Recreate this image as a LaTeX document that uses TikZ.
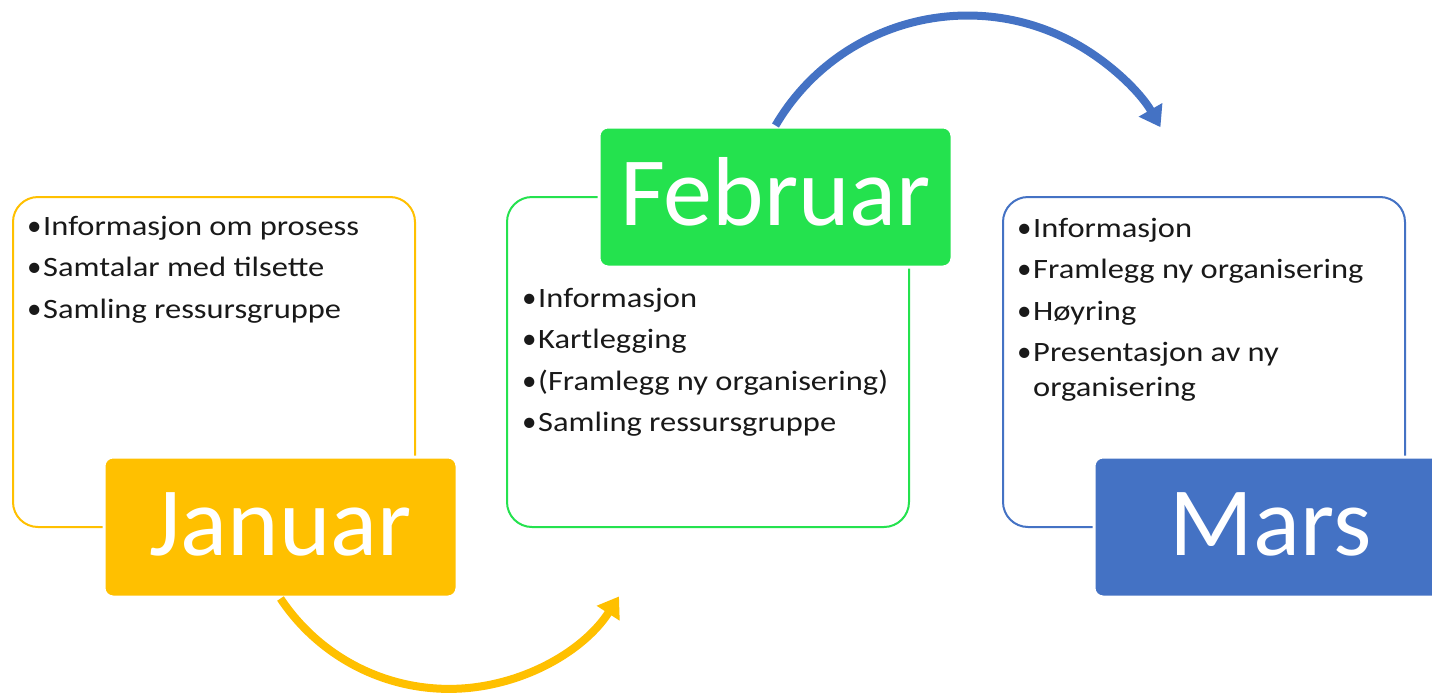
\documentclass[tikz,border=0pt]{standalone}
\usepackage{fontspec}
\setmainfont{Carlito}
\newfontfamily\itemfont[FakeStretch=1.16]{Carlito}
\newfontfamily\bulletfont{Carlito}
\usetikzlibrary{arrows.meta}
\definecolor{janc}{HTML}{FFC000}
\definecolor{febc}{HTML}{24E24E}
\definecolor{marc}{HTML}{4472C4}
\newcommand{\bitem}[1]{\makebox[16pt][l]{\bulletfont\fontsize{29}{35}\selectfont •}#1}
\newcommand{\bindent}{\hspace*{16pt}}
\begin{document}
\begin{tikzpicture}[x=1pt,y=-1pt,
  textbox/.style={draw=#1, line width=2pt, rounded corners=25pt, fill=white,
    minimum width=402pt, minimum height=330pt, inner sep=0pt},
  monthlabel/.style={fill=#1, draw=white, line width=3pt, rounded corners=9pt,
    minimum width=353pt, minimum height=140pt, inner sep=0pt, text=white,
    font=\fontsize{98}{98}\selectfont, text height=63pt, text depth=7pt},
  items/.style={anchor=base west, inner sep=0pt, text=black!90,
    font=\itemfont\fontsize{28}{35}\selectfont},
  cyclearrow/.style={draw=#1, line width=8pt, -{Triangle[length=20pt,width=26pt]}}
]
\clip (0,0) rectangle (1432,699);
\fill[white] (0,0) rectangle (1432,699);

% text boxes
\node[textbox=janc] (jt) at (214,362) {};
\node[textbox=febc] (ft) at (708,362) {};
\node[textbox=marc] (mt) at (1204,362) {};

% month labels
\node[monthlabel=janc] (jl) at (280.5,527) {Januar};
\node[monthlabel=febc] (fl) at (775.5,197) {Februar};
\node[monthlabel=marc] (ml) at (1270.5,527) {Mars};

% items
\node[items] (ji) at (27,235) {\begin{tabular}[t]{@{}l@{}}
  \bitem{Informasjon om prosess}\\[6.5pt]
  \bitem{Samtalar med tilsette}\\[6.5pt]
  \bitem{Samling ressursgruppe}
\end{tabular}};
\node[items] (fi) at (522,307) {\begin{tabular}[t]{@{}l@{}}
  \bitem{Informasjon}\\[6.5pt]
  \bitem{Kartlegging}\\[6.5pt]
  \bitem{(Framlegg ny organisering)}\\[6.5pt]
  \bitem{Samling ressursgruppe}
\end{tabular}};
\node[items] (mi) at (1017,237) {\begin{tabular}[t]{@{}l@{}}
  \bitem{Informasjon}\\[6.5pt]
  \bitem{Framlegg ny organisering}\\[6.5pt]
  \bitem{Høyring}\\[6.5pt]
  \bitem{Presentasjon av ny}\\
  \bindent organisering
\end{tabular}};

% connectors
\draw[cyclearrow=janc] (jl.south) arc[start angle=213.6, end angle=327.1, radius=202.4pt];
\draw[cyclearrow=marc] (fl.north) arc[start angle=149.6, end angle=29.9, radius=222.6pt];
\end{tikzpicture}
\end{document}
